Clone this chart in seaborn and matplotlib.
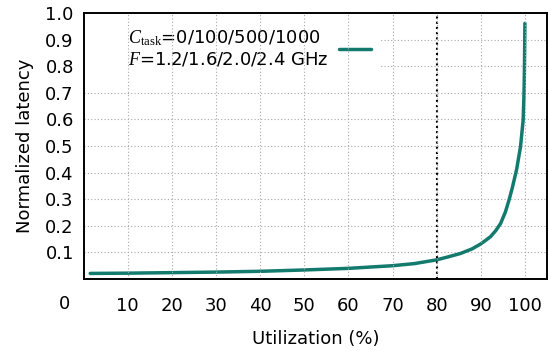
import matplotlib
matplotlib.use("Agg")
import matplotlib.pyplot as plt
import seaborn as sns
import pandas as pd
from matplotlib.patches import Rectangle

# ---- data ----
utilization = [1.5, 10, 20, 30, 40, 50, 60, 70, 75, 80, 83, 85.4, 88, 89.9, 91,
               92.2, 93.4, 94.5, 95.6, 96.4, 97.1, 98.1, 99.0, 99.6, 99.8, 99.9, 100]
latency = [0.021, 0.022, 0.024, 0.026, 0.029, 0.034, 0.040, 0.050, 0.058, 0.072,
           0.085, 0.096, 0.113, 0.131, 0.144, 0.159, 0.182, 0.209, 0.253, 0.297,
           0.340, 0.410, 0.497, 0.597, 0.698, 0.800, 0.961]
xticks = [10, 20, 30, 40, 50, 60, 70, 80, 90, 100]
yticks = [0.1, 0.2, 0.3, 0.4, 0.5, 0.6, 0.7, 0.8, 0.9, 1.0]
threshold = 80
legend_label = "$C_{\\mathrm{task}}$=0/100/500/1000\n$F$=1.2/1.6/2.0/2.4 GHz"

df = pd.DataFrame({"Utilization": utilization, "Latency": latency})

sns.set_theme(style="white")
plt.rcParams["font.family"] = ["DejaVu Sans"]
plt.rcParams["text.color"] = "black"
plt.rcParams["axes.labelcolor"] = "black"
plt.rcParams["xtick.color"] = "black"
plt.rcParams["ytick.color"] = "black"
plt.rcParams["mathtext.fontset"] = "custom"
plt.rcParams["mathtext.it"] = "Liberation Serif:italic"
plt.rcParams["mathtext.rm"] = "Liberation Serif"
plt.rcParams["mathtext.cal"] = "Liberation Serif"

fig = plt.figure(figsize=(5.51, 3.51), dpi=100)
ax = fig.add_axes([0.1517, 0.2051, 0.8410, 0.7579])

color = "#137a6e"
sns.lineplot(data=df, x="Utilization", y="Latency", ax=ax, color=color,
             linewidth=2.5, label=legend_label, zorder=3)

ax.axvline(threshold, color="black", linestyle=(0, (1, 1.5)), linewidth=1.5, zorder=3.5)

ax.set_xlim(0, 105)
ax.set_ylim(0, 1.0)
ax.set_xticks(xticks)
ax.set_yticks(yticks)
ax.set_xticklabels([str(t) for t in xticks])
ax.set_yticklabels([f"{t:.1f}" for t in yticks])

ax.tick_params(axis="both", direction="in", length=8, width=1.0, colors="black",
               labelcolor="black", labelsize=13, top=False, right=False)
ax.tick_params(axis="x", pad=13)
ax.tick_params(axis="y", pad=7)

grid_kw = dict(color="#a8a8a8", linestyle=(0, (1, 2)), linewidth=0.8)
ax.xaxis.grid(True, **grid_kw)
ax.yaxis.grid(True, **grid_kw)
ax.xaxis.set_zorder(6)
ax.yaxis.set_zorder(0.5)

for sp in ax.spines.values():
    sp.set_color("black")
    sp.set_linewidth(1.4)
    sp.set_zorder(7)

ax.set_xlabel("Utilization (%)", fontsize=13, labelpad=11, color="black")
ax.set_ylabel("Normalized latency", fontsize=13, labelpad=8, color="black")

# white box behind the key
ax.add_patch(Rectangle((0.0, 0.75), 0.64, 0.25, transform=ax.transAxes,
                       facecolor="white", edgecolor="none", zorder=4.5))

leg = ax.legend(loc="upper left", bbox_to_anchor=(0.096, 0.942), frameon=False,
                markerfirst=False, fontsize=13, handlelength=1.75,
                handletextpad=0.6, borderpad=0.0, borderaxespad=0.0)
leg.set_zorder(5)
for t in leg.get_texts():
    t.set_color("black")

# stray "0" label at lower-left
fig.text(65 / 551, 1 - 304 / 351, "0", ha="center", va="center", fontsize=13,
         color="black")

fig.savefig("out.png", dpi=100)
